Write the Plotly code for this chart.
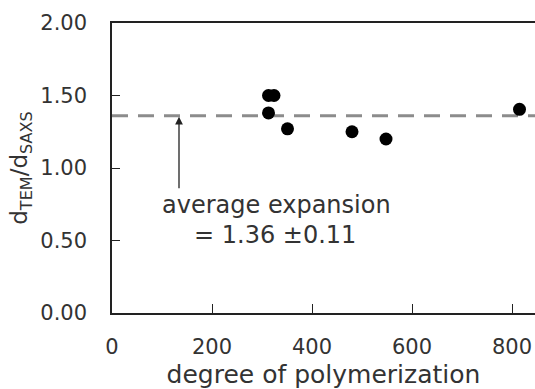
import plotly.graph_objects as go

dp = [313, 324, 313, 351, 480, 548, 815]
ratio = [1.50, 1.50, 1.38, 1.27, 1.25, 1.20, 1.405]
avg = 1.36
x_range = [0, 846]
y_ticks = [0.0, 0.5, 1.0, 1.5, 2.0]
x_ticks = [0, 200, 400, 600, 800]
arrow_x = 134
arrow_tail_y = 0.85

FONT = "DejaVu Sans"
TXT = "#333333"

fig = go.Figure()
fig.add_trace(go.Scatter(x=x_range, y=[avg, avg], mode="lines",
                         line=dict(color="#8c8c8c", width=3, dash="16px,10px"),
                         hoverinfo="skip", showlegend=False))
fig.add_trace(go.Scatter(x=dp, y=ratio, mode="markers",
                         marker=dict(color="black", size=13),
                         showlegend=False))

fig.add_annotation(x=arrow_x, y=avg, ax=arrow_x, ay=arrow_tail_y, xref="x", yref="y",
                   axref="x", ayref="y", showarrow=True, arrowhead=2, arrowsize=1.2,
                   arrowwidth=1.3, arrowcolor="#222", text="", standoff=1)
fig.add_annotation(x=328, y=0.745, xref="x", yref="y", showarrow=False,
                   text="average expansion", font=dict(family=FONT, size=24, color=TXT))
fig.add_annotation(x=326, y=0.54, xref="x", yref="y", showarrow=False,
                   text="= 1.36 ±0.11", font=dict(family=FONT, size=24, color=TXT))

fig.update_layout(
    width=535, height=389,
    margin=dict(l=112, r=0, t=23, b=76),
    paper_bgcolor="white", plot_bgcolor="white",
    font=dict(family=FONT, size=20, color=TXT),
    xaxis=dict(range=x_range, tickvals=x_ticks, ticks="inside", ticklen=9,
               tickwidth=1.3, tickcolor="#222", showline=True, linecolor="#222",
               linewidth=1.5, mirror=True, showgrid=False, zeroline=False,
               automargin=False,
               ticklabelstandoff=14, tickfont=dict(size=21, color=TXT),
               title=dict(text="degree of polymerization", standoff=18,
                          font=dict(size=25, color=TXT))),
    yaxis=dict(range=[0, 2.0], tickvals=y_ticks, tickformat=".2f", ticks="inside",
               ticklen=8, tickwidth=1.3, tickcolor="#222", showline=True,
               linecolor="#222", linewidth=1.5, mirror=True, showgrid=False,
               zeroline=False, automargin=False,
               ticklabelstandoff=19, tickfont=dict(size=21, color=TXT),
               title=dict(text="d<sub>TEM</sub>/d<sub>SAXS</sub>", standoff=6,
                          font=dict(size=23, color=TXT))),
)

fig.write_html("out.html")
